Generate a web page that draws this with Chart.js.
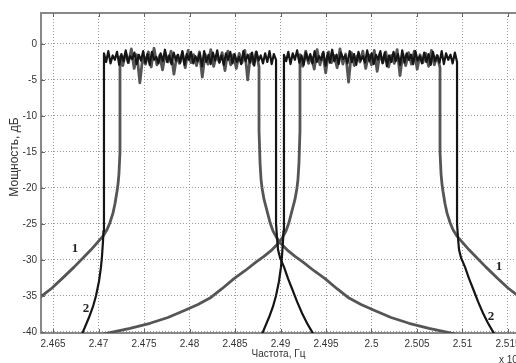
<!DOCTYPE html>
<html>
<head>
<meta charset="utf-8">
<script src="https://cdn.jsdelivr.net/npm/chart.js@4/dist/chart.umd.min.js"></script>
<style>
  html, body { margin: 0; padding: 0; background: #fff; overflow: hidden; }
  canvas { display: block; }
</style>
</head>
<body>
<canvas id="spectrum" width="516" height="363"></canvas>
<script>
/* ── Axis ranges and ticks (frequency in units of 1e9 Hz) ── */
var xMin = 2.46368, xMax = 2.51588;
var yMin = -40.15, yMax = 4.3;
var xTicks = [2.465, 2.47, 2.475, 2.48, 2.485, 2.49, 2.495, 2.5, 2.505, 2.51, 2.515];
var xTickLabels = ['2.465', '2.47', '2.475', '2.48', '2.485', '2.49', '2.495', '2.5', '2.505', '2.51', '2.515'];
var yTicks = [0, -5, -10, -15, -20, -25, -30, -35, -40];

/* ── Curve 2 (black): band edges of the two channels ── */
var edges2A = [2.47060, 2.48951];
var edges2B = [2.49038, 2.50940];
/* ── Curve 1 (grey): band edges ── */
var edges1A = [2.47236, 2.48764];
var edges1B = [2.49214, 2.50753];

/* skirts: distance from band edge and level, dB */
var skirt2LeftDf  = [0, 0.000055, 0.00011, 0.00022, 0.00033, 0.00055, 0.00088, 0.00121, 0.00165, 0.00231, 0.00286];
var skirt2LeftDb  = [-24, -26, -27.5, -29.5, -31, -33, -35, -36.5, -38, -40, -41.5];
var skirt2RightDf = [0, 0.00011, 0.00022, 0.00044, 0.00088, 0.00132, 0.00176, 0.00231, 0.00286, 0.00341, 0.00396, 0.00462];
var skirt2RightDb = [-25, -27, -28.6, -29.7, -31, -32.6, -34, -35.8, -37.4, -38.8, -40, -41.4];

var skirt1OuterDf = [0, 0.00011, 0.00022, 0.00033, 0.00055, 0.00077, 0.0011, 0.00143, 0.00187, 0.00242, 0.00319, 0.00396, 0.00505, 0.00637, 0.00747, 0.00868, 0.01044];
var skirt1OuterDb = [-15, -18, -19.5, -20.5, -22.2, -23.5, -24.8, -25.8, -26.7, -27.5, -28.6, -29.6, -31.0, -32.6, -33.9, -35.1, -36.6];
var skirt1InnerDf = [0, 0.00011, 0.00022, 0.00033, 0.00055, 0.00088, 0.00121, 0.00154, 0.00198, 0.00231, 0.00308, 0.00396, 0.00484, 0.00604, 0.00725, 0.00857, 0.00989, 0.01121, 0.01264, 0.01451, 0.01648, 0.01868, 0.02088, 0.02253];
var skirt1InnerDb = [-12, -16.5, -18.8, -20, -21.6, -23.2, -24.8, -26, -27, -27.6, -28.6, -29.5, -30.3, -31.5, -32.6, -34, -35.3, -36.2, -37, -38, -38.8, -39.5, -40.1, -40.6];

/* in-band levels, dB */
var band2A = [
  -1.3,-2.5,-1.0,-2.7,-1.6,-2.2,-1.1,-2.9,-1.4,-2.4,
  -0.9,-2.6,-1.7,-2.1,-1.2,-2.8,-1.5,-2.3,-1.0,-2.6,
  -1.4,-2.9,-1.1,-2.2,-1.8,-2.7,-1.3,-2.4,-0.8,-2.5,
  -1.6,-2.8,-1.2,-2.3,-1.5,-2.6,-1.0,-2.9,-1.4,-2.2,
  -1.1,-2.7,-1.7,-2.4,-1.3,-3.1,-1.0,-2.5,-1.5,-2.8,
  -1.2,-2.3,-0.9,-2.6,-1.6,-2.9,-1.3,-2.2,-1.1,-2.7,
  -1.4,-2.5,-1.8,-2.8,-1.0,-2.4,-1.5,-2.6,-1.2,-3.0,
  -1.1,-2.3,-1.6,-2.7,-1.3,-2.5,-1.0,-2.8,-1.4,-2.2
];
var band2B = [
  -1.5,-2.4,-1.1,-2.8,-1.3,-2.2,-0.9,-2.6,-1.6,-2.9,
  -1.2,-2.3,-1.4,-2.7,-1.0,-2.5,-1.7,-2.2,-1.1,-3.0,
  -1.3,-2.6,-0.8,-2.4,-1.5,-2.8,-1.2,-2.1,-1.6,-2.7,
  -1.0,-2.5,-1.4,-2.9,-1.1,-2.3,-1.7,-2.6,-0.9,-2.4,
  -1.3,-2.8,-1.5,-2.2,-1.0,-2.7,-1.2,-3.1,-1.6,-2.5,
  -1.1,-2.4,-1.4,-2.9,-0.9,-2.6,-1.3,-2.2,-1.5,-2.8,
  -1.0,-2.3,-1.7,-2.7,-1.2,-2.5,-1.4,-2.9,-1.1,-2.4,
  -1.6,-2.6,-1.0,-2.8,-1.3,-2.2,-1.5,-2.7,-1.2,-2.5
];
var band1A = [
  -1.8,-3.0,-1.2,-2.6,-0.7,-3.4,-1.5,-5.4,-1.9,-2.8,
  -1.1,-3.2,-0.6,-2.9,-1.6,-3.6,-1.3,-2.5,-1.0,-4.2,
  -1.7,-2.7,-1.2,-3.3,-0.9,-2.6,-1.5,-3.0,-1.1,-4.6,
  -1.4,-2.8,-0.8,-3.1,-1.6,-2.5,-1.2,-3.7,-1.0,-2.9,
  -1.5,-3.4,-1.3,-2.6,-0.9,-5.0,-1.4,-2.8,-1.1,-3.2
];
var band1B = [
  -1.5,-3.1,-1.0,-2.7,-1.8,-3.5,-0.8,-2.9,-1.3,-4.0,
  -1.1,-2.6,-1.6,-3.3,-0.7,-2.8,-1.4,-5.3,-1.2,-3.0,
  -1.7,-2.5,-1.0,-3.4,-1.5,-2.9,-0.9,-3.8,-1.3,-2.6,
  -1.1,-3.2,-1.6,-2.7,-0.8,-4.4,-1.4,-3.0,-1.2,-2.8,
  -1.0,-3.5,-1.5,-2.6,-1.3,-3.1,-0.9,-2.9,-1.6,-3.3
];

/* curve number labels */
var labelTexts = ['1', '2', '1', '2'];
var labelX = [2.46742, 2.46863, 2.51401, 2.51313];
var labelY = [-28.5, -36.7, -31.0, -37.9];

/* ── Build one channel: left skirt, band, right skirt ── */
function bandPoints(edges, band, leftDf, leftDb, rightDf, rightDb) {
  var pts = [];
  for (var i = leftDf.length - 1; i >= 0; i--) pts.push({ x: edges[0] - leftDf[i], y: leftDb[i] });
  var n = band.length;
  for (var j = 0; j < n; j++) pts.push({ x: edges[0] + (edges[1] - edges[0]) * j / (n - 1), y: band[j] });
  for (var k = 0; k < rightDf.length; k++) pts.push({ x: edges[1] + rightDf[k], y: rightDb[k] });
  return pts;
}

function lineSet(data, color, width) {
  return {
    data: data, borderColor: color, borderWidth: width, pointRadius: 0,
    showLine: true, tension: 0, fill: false, borderJoinStyle: 'round'
  };
}

var overlay = {
  id: 'overlay',
  afterDraw: function(chart) {
    var ctx = chart.ctx, a = chart.chartArea, xs = chart.scales.x, ys = chart.scales.y;
    ctx.save();
    // top frame
    ctx.strokeStyle = '#888';
    ctx.lineWidth = 2;
    ctx.beginPath(); ctx.moveTo(a.left, a.top); ctx.lineTo(a.right, a.top); ctx.stroke();
    // inward tick marks
    ctx.strokeStyle = '#666';
    ctx.lineWidth = 1;
    ctx.beginPath();
    xTicks.forEach(function(v) {
      var p = Math.round(xs.getPixelForValue(v)) + 0.5;
      ctx.moveTo(p, a.bottom); ctx.lineTo(p, a.bottom - 4);
      ctx.moveTo(p, a.top); ctx.lineTo(p, a.top + 4);
    });
    yTicks.forEach(function(v) {
      var p = Math.round(ys.getPixelForValue(v)) + 0.5;
      ctx.moveTo(a.left, p); ctx.lineTo(a.left + 4, p);
    });
    ctx.stroke();
    // curve numbers
    ctx.fillStyle = '#222';
    ctx.font = 'bold 13px "Liberation Serif", serif';
    ctx.textAlign = 'center';
    ctx.textBaseline = 'middle';
    labelTexts.forEach(function(t, i) {
      ctx.fillText(t, xs.getPixelForValue(labelX[i]), ys.getPixelForValue(labelY[i]));
    });
    // axis titles
    ctx.fillStyle = '#333';
    ctx.font = '10px "Liberation Sans", Arial, sans-serif';
    ctx.fillText('Частота, Гц', (a.left + a.right) / 2, 354);
    ctx.textAlign = 'left';
    ctx.fillText('x 10', 499, 360);
    ctx.translate(15, 157);
    ctx.rotate(-Math.PI / 2);
    ctx.textAlign = 'center';
    ctx.font = '12px "Liberation Sans", Arial, sans-serif';
    ctx.fillText('Мощность, дБ', 0, 0);
    ctx.restore();
  }
};

new Chart(document.getElementById('spectrum'), {
  type: 'scatter',
  data: {
    datasets: [
      lineSet(bandPoints(edges2A, band2A, skirt2LeftDf, skirt2LeftDb, skirt2RightDf, skirt2RightDb), '#151515', 2.2),
      lineSet(bandPoints(edges2B, band2B, skirt2LeftDf, skirt2LeftDb, skirt2RightDf, skirt2RightDb), '#151515', 2.2),
      lineSet(bandPoints(edges1A, band1A, skirt1OuterDf, skirt1OuterDb, skirt1InnerDf, skirt1InnerDb), '#555555', 2.8),
      lineSet(bandPoints(edges1B, band1B, skirt1InnerDf, skirt1InnerDb, skirt1OuterDf, skirt1OuterDb), '#555555', 2.8)
    ]
  },
  options: {
    responsive: false,
    animation: false,
    layout: { padding: { top: 13, left: 0, right: 0, bottom: 0 } },
    plugins: { legend: { display: false }, tooltip: { enabled: false } },
    scales: {
      x: {
        type: 'linear',
        min: xMin,
        max: xMax,
        afterBuildTicks: function(s) { s.ticks = xTicks.map(function(v) { return { value: v }; }); },
        afterFit: function(s) { s.height = 30; s.paddingLeft = 0; s.paddingRight = 0; },
        grid: { color: '#999', lineWidth: 1, drawTicks: false },
        border: { display: true, color: '#888', width: 2, dash: [1, 2] },
        ticks: {
          padding: 5,
          maxRotation: 0,
          autoSkip: false,
          color: '#333',
          font: { family: '"Liberation Sans", Arial, sans-serif', size: 10 },
          callback: function(v, i) { return xTickLabels[i]; }
        }
      },
      y: {
        type: 'linear',
        min: yMin,
        max: yMax,
        afterBuildTicks: function(s) { s.ticks = yTicks.map(function(v) { return { value: v }; }); },
        afterFit: function(s) { s.width = 41; s.paddingTop = 0; s.paddingBottom = 0; },
        grid: { color: '#999', lineWidth: 1, drawTicks: false },
        border: { display: true, color: '#888', width: 2, dash: [1, 2] },
        ticks: {
          padding: 4,
          color: '#333',
          font: { family: '"Liberation Sans", Arial, sans-serif', size: 10 },
          callback: function(v) { return String(v); }
        }
      }
    }
  },
  plugins: [overlay]
});
</script>
</body>
</html>
